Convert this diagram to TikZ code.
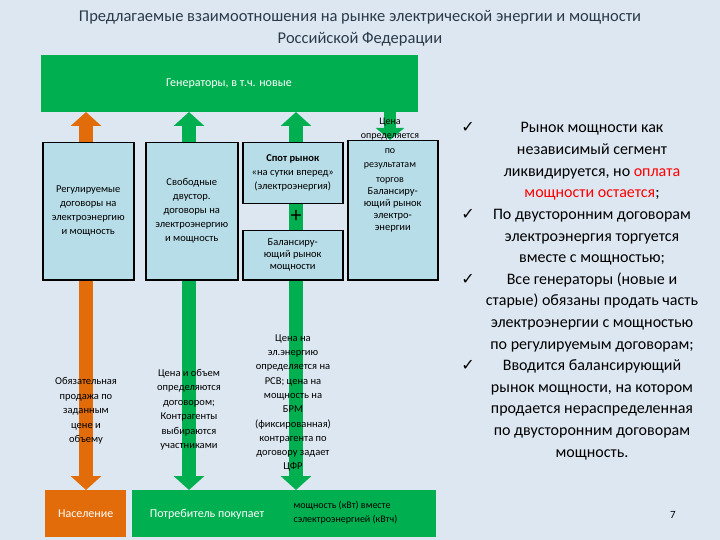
\documentclass[tikz,border=0pt]{standalone}
\usepackage{fontspec}
\setmainfont{Carlito}
\newfontfamily\dvs{DejaVu Sans}
\usetikzlibrary{arrows.meta}
\definecolor{bg}{HTML}{DDE7F1}
\definecolor{gr}{HTML}{00B050}
\definecolor{orng}{HTML}{E36C0A}
\definecolor{lb}{HTML}{B7DDE8}
\definecolor{ttl}{HTML}{2B3A4A}
\tikzset{
 box/.style={draw=black,line width=1.5pt,fill=lb,align=center,font=\fontsize{10.5}{14}\selectfont,inner sep=1pt},
 lbl/.style={align=center,font=\fontsize{10.5}{14.5}\selectfont},
 garr/.style={draw=gr,line width=14pt,{Triangle[width=30pt,length=14pt]}-{Triangle[width=30pt,length=14pt]}},
 oarr/.style={draw=orng,line width=14pt,{Triangle[width=30pt,length=14pt]}-{Triangle[width=30pt,length=14pt]}},
 rt/.style={anchor=base,font=\fontsize{16}{18}\selectfont},
}
\begin{document}
\begin{tikzpicture}[x=1pt,y=-1pt]
\fill[bg] (0,0) rectangle (720,540);
\useasboundingbox (0,0) rectangle (720,540);
\node[text=ttl,align=center,font=\fontsize{16.5}{22}\selectfont] (title) at (360,28) {Предлагаемые взаимоотношения на рынке электрической энергии и мощности\\Российской Федерации};
\node[fill=gr,minimum width=377pt,minimum height=57pt,anchor=north west,inner sep=0] (gen) at (41,55) {};
\node[text=white,font=\fontsize{12}{14}\selectfont] (gent) at (229,84) {Генераторы, в т.ч. новые};
\node[fill=orng,minimum width=81pt,minimum height=47pt,anchor=north west,inner sep=0,text=white,font=\fontsize{12}{14}\selectfont] (pop) at (45,490) {Население};
\node[fill=gr,minimum width=304pt,minimum height=47pt,anchor=north west,inner sep=0] (cons) at (132,490) {};
\node[text=white,font=\fontsize{12}{14}\selectfont] (const) at (207,514) {Потребитель покупает};
% arrows
\draw[oarr] (86,490) coordinate (a1) -- (86,112) coordinate (b1);
\draw[garr] (189,490) coordinate (a2) -- (189,112) coordinate (b2);
\draw[garr] (296,490) coordinate (a3) -- (296,112) coordinate (b3);
\draw[draw=gr,line width=12pt,-{Triangle[width=28pt,length=12pt]}] (390,112) coordinate (b4) -- (390,140) coordinate (a4);
% boxes
\node[box,minimum width=91pt,minimum height=137pt,anchor=north west] (r1) at (42,142) {Регулируемые\\договоры на\\электроэнергию\\и мощность};
\node[box,minimum width=92pt,minimum height=137pt,anchor=north west] (r2) at (145,142) {Свободные\\двустор.\\договоры на\\электроэнергию\\и мощность};
\node[box,minimum width=100pt,minimum height=61pt,anchor=north west] (r3) at (242,142) {\textbf{Спот рынок}\\«на сутки вперед»\\(электроэнергия)};
\node[box,minimum width=100pt,minimum height=49pt,anchor=north west,font=\fontsize{10.5}{12}\selectfont] (r4) at (242,230) {Балансиру-\\ющий рынок\\мощности};
\node[box,minimum width=90pt,minimum height=139pt,anchor=north west,font=\fontsize{10.5}{12}\selectfont] (r5) at (347,140) {Балансиру-\\ющий рынок\\электро-\\энергии};
\node[font=\fontsize{22}{22}\selectfont] (plus) at (296,216) {+};
% labels
\node[lbl,font=\fontsize{10}{14.5}\selectfont] (l0) at (390,151) {Цена\\определяется\\по\\результатам\\торгов};
\node[lbl] (l1) at (86,411) {Обязательная\\продажа по\\заданным\\цене и\\объему};
\node[lbl] (l2) at (189,410) {Цена и объем\\определяются\\договором;\\Контрагенты\\выбираются\\участниками};
\node[lbl,font=\fontsize{10.5}{14.3}\selectfont] (l3) at (293,403) {Цена на\\эл.энергию\\определяется на\\РСВ; цена на\\мощность на\\БРМ\\(фиксированная)\\контрагента по\\договору задает\\ЦФР};
\node[lbl,align=left,font=\fontsize{10}{14}\selectfont,anchor=west] (l4) at (290,513) {мощность (кВт) вместе\\сэлектроэнергией (кВтч)};
% right text
\foreach \t [count=\i] in {
 {Рынок мощности как},{независимый сегмент},{ликвидируется, но \textcolor{red}{оплата}},{\textcolor{red}{мощности остается};},
 {По двусторонним договорам},{электроэнергия торгуется},{вместе с мощностью;},
 {Все генераторы (новые и},{старые) обязаны продать часть},{электроэнергии с мощностью},{по регулируемым договорам;},
 {Вводится балансирующий},{рынок мощности, на котором},{продается нераспределенная},{по двусторонним договорам},{мощность.}}
 \node[rt] (t\i) at (592,{133+(\i-1)*21.6}) {\t};
\foreach \i in {1,5,8,12}
 \node[anchor=base,font=\dvs\fontsize{16}{16}\selectfont] (c\i) at (468,{133+(\i-1)*21.6}) {✓};
\node[font=\fontsize{11}{12}\selectfont] (pg) at (673,515) {7};
\end{tikzpicture}
\end{document}
